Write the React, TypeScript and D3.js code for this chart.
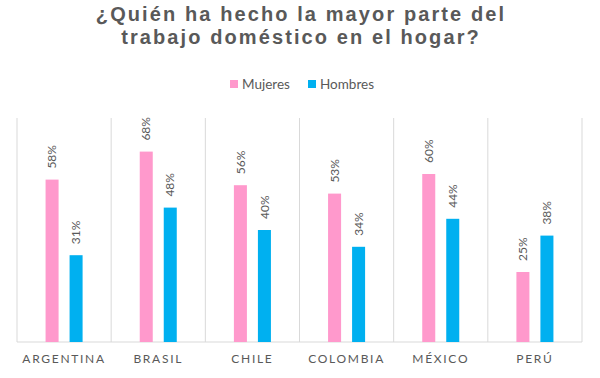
import React from "react";
import * as d3 from "d3";

const countries = ["ARGENTINA", "BRASIL", "CHILE", "COLOMBIA", "MÉXICO", "PERÚ"];
const seriesNames = ["Mujeres", "Hombres"];
const mujeres = [0.58, 0.68, 0.56, 0.53, 0.6, 0.25];
const hombres = [0.31, 0.48, 0.4, 0.34, 0.44, 0.38];
const titleLines = ["¿Quién ha hecho la mayor parte del", "trabajo doméstico en el hogar?"];
const colors = ["#FF99CC", "#00B0F0"];

const W = 600;
const H = 378;
const left = 17;
const right = 582;
const top = 118;
const bottom = 342;

export default function App() {
  const x = d3.scaleBand<string>().domain(countries).range([left, right]).padding(0);
  const inner = d3
    .scaleBand<string>()
    .domain(seriesNames)
    .range([0, x.bandwidth()])
    .paddingInner(0.458)
    .paddingOuter(1.19);
  const y = d3.scaleLinear().domain([0, 0.8]).range([bottom, top]);
  const values = [mujeres, hombres];
  const fmt = d3.format(".0%");
  const gridX = countries.map((c) => x(c)!).concat([right]);
  const textColor = "#595959";

  return (
    <svg
      width={W}
      height={H}
      style={{ position: "absolute", left: 0, top: 0, background: "#fff" }}
    >
      <rect width={W} height={H} fill="#fff" />
      {titleLines.map((t, i) => (
        <text
          key={i}
          x={W / 2 + 1}
          y={21 + i * 23}
          textAnchor="middle"
          fontFamily="'Liberation Sans', Arial, sans-serif"
          fontWeight="bold"
          fontSize={20}
          letterSpacing={2.1}
          fill={textColor}
        >
          {t}
        </text>
      ))}
      {/* legend */}
      {seriesNames.map((s, i) => {
        const lx = [230, 308][i];
        return (
          <g key={s} transform={`translate(${lx},80)`}>
            <rect width={8} height={8} fill={colors[i]} />
            <text
              x={12}
              y={4}
              dy="0.35em"
              fontFamily="Lato, sans-serif"
              fontSize={13.5}
              fill={textColor}
            >
              {s}
            </text>
          </g>
        );
      })}
      {/* gridlines */}
      {gridX.map((gx, i) => (
        <line key={i} x1={gx} x2={gx} y1={top} y2={bottom} stroke="#D9D9D9" strokeWidth={1} />
      ))}
      <line x1={left} x2={right} y1={bottom} y2={bottom} stroke="#D9D9D9" strokeWidth={1} />
      {/* bars */}
      {countries.map((c, ci) => (
        <g key={c} transform={`translate(${x(c)},0)`}>
          {seriesNames.map((s, si) => {
            const v = values[si][ci];
            const bx = inner(s)!;
            const bw = inner.bandwidth();
            return (
              <g key={s}>
                <rect x={bx} y={y(v)} width={bw} height={bottom - y(v)} fill={colors[si]} />
                <text
                  transform={`translate(${bx + bw / 2},${y(v) - 11}) rotate(-90)`}
                  dy="0.35em"
                  textAnchor="start"
                  fontFamily="Lato, sans-serif"
                  fontSize={12}
                  fill={textColor}
                >
                  {fmt(v)}
                </text>
              </g>
            );
          })}
          <text
            x={x.bandwidth() / 2}
            y={359}
            dy="0.35em"
            textAnchor="middle"
            fontFamily="Lato, sans-serif"
            fontSize={12}
            letterSpacing={1.7}
            fill={textColor}
          >
            {c}
          </text>
        </g>
      ))}
    </svg>
  );
}
